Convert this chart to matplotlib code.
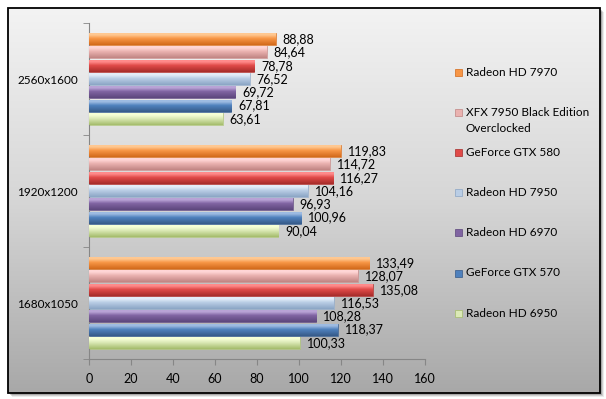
import numpy as np
import matplotlib
matplotlib.use('Agg')
import matplotlib.pyplot as plt
from matplotlib.colors import LinearSegmentedColormap
from matplotlib.patches import Rectangle

plt.rcParams['font.family'] = ['Lato', 'DejaVu Sans']

# Data
resolutions = ['1680x1050', '1920x1200', '2560x1600']
series = ['Radeon HD 6950', 'GeForce GTX 570', 'Radeon HD 6970', 'Radeon HD 7950',
          'GeForce GTX 580', 'XFX 7950 Black Edition Overclocked', 'Radeon HD 7970']
hd6950 = [100.33, 90.04, 63.61]
gtx570 = [118.37, 100.96, 67.81]
hd6970 = [108.28, 96.93, 69.72]
hd7950 = [116.53, 104.16, 76.52]
gtx580 = [135.08, 116.27, 78.78]
xfx7950 = [128.07, 114.72, 84.64]
hd7970 = [133.49, 119.83, 88.88]
values = [hd6950, gtx570, hd6970, hd7950, gtx580, xfx7950, hd7970]
x_ticks = [0, 20, 40, 60, 80, 100, 120, 140, 160]

# (light, base, dark) per series
colors = [
    ('#f6ffd6', '#dbe9b6', '#a3bb6a'),
    ('#9dbbe2', '#4f81bd', '#365a88'),
    ('#b9a3d6', '#8064a2', '#5c467c'),
    ('#e4edf8', '#b9cde5', '#8aa4c4'),
    ('#ff8a8a', '#e04a48', '#a52c2a'),
    ('#ffd6d6', '#eab2b0', '#c08482'),
    ('#ffc891', '#f79646', '#d2691a'),
]

W, H = 606, 399
fig = plt.figure(figsize=(W / 100, H / 100), dpi=100)
fig.patch.set_facecolor('white')

# background frame (pixel coordinates)
bg = fig.add_axes([0, 0, 1, 1], zorder=-1)
bg.set_xlim(0, W)
bg.set_ylim(H, 0)
bg.axis('off')
for off, a in [(4, 0.08), (3, 0.12), (2, 0.18)]:
    bg.add_patch(Rectangle((8 + off, 8 + off), 592, 385, facecolor='black', alpha=a, lw=0))
grad = np.linspace(0, 1, 256).reshape(-1, 1)
bg_cmap = LinearSegmentedColormap.from_list('bg', ['#f3f3f3', '#d6d6d6', '#a8a8a8'])
bg.imshow(grad, cmap=bg_cmap, extent=(8, 600, 393, 8), aspect='auto', zorder=1)
bg.add_patch(Rectangle((8, 8), 592, 385, facecolor='none', edgecolor='black', lw=1.3, zorder=2))
bg.set_xlim(0, W)
bg.set_ylim(H, 0)

# plot area
ax = fig.add_axes([89 / W, 40 / H, 336 / W, 336 / H])
ax.patch.set_alpha(0)
y = np.arange(len(resolutions))
group = 0.83
slot = group / len(series)
bar_h = slot * 0.9

for i, (name, vals, (c1, c2, c3)) in enumerate(zip(series, values, colors)):
    pos = y + (i - (len(series) - 1) / 2) * slot
    bars = ax.barh(pos, vals, height=bar_h, color=c2, edgecolor=c3, linewidth=0.4, label=name, zorder=2)
    cmap = LinearSegmentedColormap.from_list('b%d' % i, [(0, c3), (0.55, c2), (0.85, c1), (1, c1)])
    for b in bars:
        x0, y0, w, h = b.get_x(), b.get_y(), b.get_width(), b.get_height()
        im = ax.imshow(grad, cmap=cmap, extent=(x0, x0 + w, y0, y0 + h), origin='lower',
                       aspect='auto', zorder=3)
        im.set_clip_path(b)
    for v, p in zip(vals, pos):
        ax.annotate(f'{v:.2f}'.replace('.', ','), (v, p), xytext=(5, 0), textcoords='offset points',
                    va='center', ha='left', fontsize=9, color='black', zorder=4)

ax.set_xlim(0, 160)
ax.set_ylim(-0.5, len(resolutions) - 0.5)
ax.set_xticks(x_ticks)
ax.tick_params(axis='x', length=4, color='#868686', labelsize=9, pad=6)
ax.set_yticks(y)
ax.set_yticklabels(resolutions)
ax.tick_params(axis='y', length=0, labelsize=8.5, pad=8)
ax.set_yticks(np.arange(len(resolutions) + 1) - 0.5, minor=True)
ax.tick_params(axis='y', which='minor', length=4, color='#868686')
for s in ['top', 'right']:
    ax.spines[s].set_visible(False)
for s in ['left', 'bottom']:
    ax.spines[s].set_color('#868686')

# legend (top entry = last series)
for k, i in enumerate(range(len(series) - 1, -1, -1)):
    yy = 72.5 + 40.1 * k
    c1, c2, c3 = colors[i]
    bg.add_patch(Rectangle((455, yy - 3.5), 7, 7, facecolor=c2, edgecolor=c3, lw=0.5, zorder=3))
    name = series[i]
    lines = ['XFX 7950 Black Edition', 'Overclocked'] if len(name) > 22 else [name]
    for j, ln in enumerate(lines):
        bg.text(466, yy + 16 * j, ln, va='center', ha='left', fontsize=8.5, color='black', zorder=3)

fig.savefig('out.png', dpi=100)
